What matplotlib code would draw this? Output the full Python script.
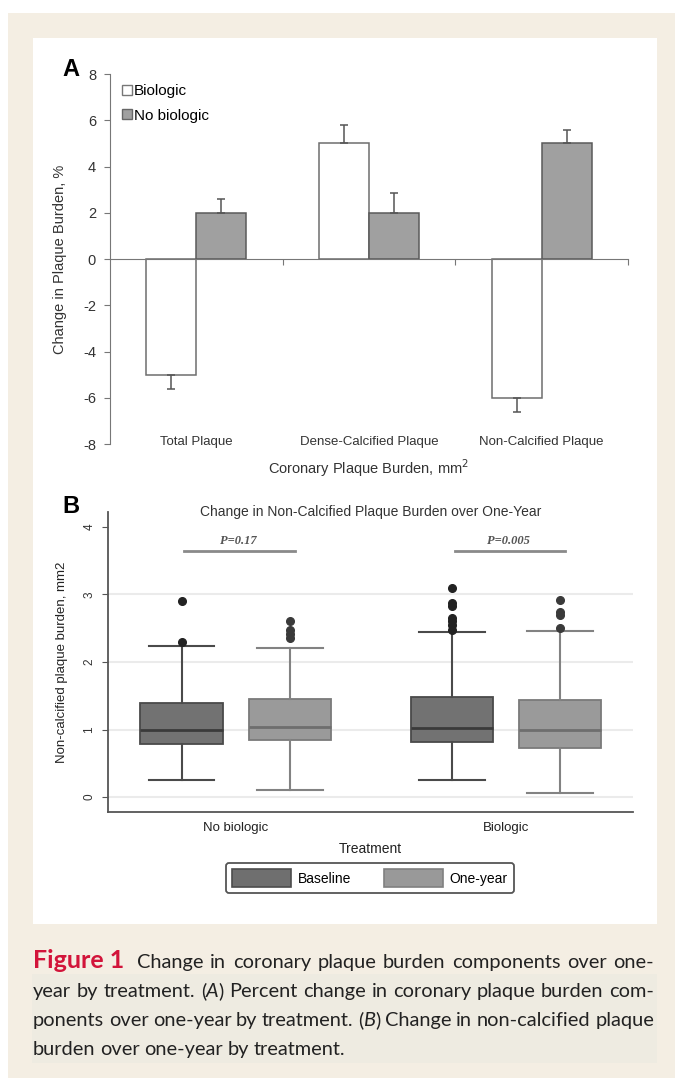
import numpy as np
import matplotlib.pyplot as plt
from matplotlib.patches import Rectangle, Patch
from matplotlib.lines import Line2D

#%% Data

# panel A : percent change in plaque burden
categories = ["Total Plaque", "Dense-Calcified Plaque", "Non-Calcified Plaque"]
biologic = [-5.0, 5.0, -6.0]
biologic_err = [0.6, 0.8, 0.6]
no_biologic = [2.0, 2.0, 5.0]
no_biologic_err = [0.6, 0.85, 0.6]

# panel B : box plots (whisker lo, q1, median, q3, whisker hi, outliers)
treatments = ["No biologic", "Biologic"]
baseline_stats = [
    [0.25, 0.79, 1.00, 1.40, 2.24, [2.30, 2.91]],
    [0.26, 0.82, 1.03, 1.48, 2.45, [2.48, 2.55, 2.61, 2.65, 2.83, 2.88, 3.09]],
]
oneyear_stats = [
    [0.10, 0.84, 1.04, 1.45, 2.20, [2.36, 2.42, 2.47, 2.60]],
    [0.06, 0.73, 1.00, 1.44, 2.46, [2.51, 2.69, 2.74, 2.92]],
]
p_values = ["P=0.17", "P=0.005"]
p_bar_y = 3.65

caption = [
    [[("Figure 1", "fig")], [("Change", "n")], [("in", "n")], [("coronary", "n")],
     [("plaque", "n")], [("burden", "n")], [("components", "n")], [("over", "n")],
     [("one-", "n")]],
    [[("year", "n")], [("by", "n")], [("treatment.", "n")],
     [("(", "n"), ("A", "i"), (")", "n")], [("Percent", "n")], [("change", "n")],
     [("in", "n")], [("coronary", "n")], [("plaque", "n")], [("burden", "n")],
     [("com-", "n")]],
    [[("ponents", "n")], [("over", "n")], [("one-year", "n")], [("by", "n")],
     [("treatment.", "n")], [("(", "n"), ("B", "i"), (")", "n")], [("Change", "n")],
     [("in", "n")], [("non-calcified", "n")], [("plaque", "n")]],
    [[("burden", "n")], [("over", "n")], [("one-year", "n")], [("by", "n")],
     [("treatment.", "n")]],
]

#%% Figure and frame

W, H = 675, 1078
cream = "#f4eee3"
plt.rcParams['font.family'] = ['Liberation Sans', 'DejaVu Sans']
plt.rcParams['axes.unicode_minus'] = False
fig = plt.figure(figsize=(W / 100, H / 100), dpi=100)
fig.patch.set_facecolor("white")


def box_px(x0, y0, x1, y1):
    # rectangle given in pixels (top-left origin) -> figure fraction
    return [x0 / W, 1 - y1 / H, (x1 - x0) / W, (y1 - y0) / H]


def rect(x0, y0, x1, y1, color):
    l, b, w, h = box_px(x0, y0, x1, y1)
    fig.patches.append(Rectangle((l, b), w, h, transform=fig.transFigure,
                                 facecolor=color, edgecolor="none", zorder=-10))


rect(8, 13, W, H, cream)
rect(33, 38, 657, 924, "white")
rect(32, 974, 657, 1063, "#eeebe1")

#%% Panel A

axA = fig.add_axes(box_px(110, 74, 628, 444))
x = np.arange(len(categories))
bw = 0.29
err_b = [[e if v < 0 else 0 for v, e in zip(biologic, biologic_err)],
         [e if v > 0 else 0 for v, e in zip(biologic, biologic_err)]]
err_n = [[e if v < 0 else 0 for v, e in zip(no_biologic, no_biologic_err)],
         [e if v > 0 else 0 for v, e in zip(no_biologic, no_biologic_err)]]
axA.bar(x - bw / 2, biologic, bw, color="white", edgecolor="#6e6e6e", lw=1.1,
        yerr=err_b, error_kw=dict(ecolor="#555555", capsize=3, elinewidth=1.1, capthick=1.1))
axA.bar(x + bw / 2, no_biologic, bw, color="#a0a0a0", edgecolor="#5a5a5a", lw=1.1,
        yerr=err_n, error_kw=dict(ecolor="#555555", capsize=3, elinewidth=1.1, capthick=1.1))
axA.set_xlim(-0.5, 2.5)
axA.set_ylim(-8, 8)
axA.set_yticks(np.arange(-8, 9, 2))
for s in ["top", "right"]:
    axA.spines[s].set_visible(False)
axA.spines["left"].set_color("#777777")
axA.spines["bottom"].set_position(("data", 0))
axA.spines["bottom"].set_color("#777777")
axA.set_xticks([0.5, 1.5, 2.5])
axA.set_xticklabels([])
axA.tick_params(axis="x", direction="out", length=4, color="#777777")
axA.tick_params(axis="y", direction="out", length=4, color="#777777",
                labelsize=10.5, labelcolor="#333333", pad=6)
for i, c in enumerate(categories):
    axA.text(i, -7.9, c, ha="center", va="center", fontsize=9.5, color="#333333")
axA.set_xlabel("Coronary Plaque Burden, mm$^2$", fontsize=10.5, color="#333333")
axA.xaxis.set_label_coords(0.5, -0.035)
axA.set_ylabel("Change in Plaque Burden, %", fontsize=10.5, color="#333333")
axA.yaxis.set_label_coords(-0.083, 0.5)
hA = [Line2D([], [], marker="s", ls="", mfc="white", mec="#777777", ms=7),
      Line2D([], [], marker="s", ls="", mfc="#a0a0a0", mec="#666666", ms=7)]
axA.legend(hA, ["Biologic", "No biologic"], loc="upper left",
           bbox_to_anchor=(-0.005, 1.01), frameon=False, fontsize=11,
           handlelength=0.7, handletextpad=0.15, labelspacing=0.7)
fig.text(62 / W, 1 - 70 / H, "A", fontsize=17, fontweight="bold", ha="left", va="center")

#%% Panel B

axB = fig.add_axes(box_px(108, 512, 633, 812))
pos = np.arange(1, len(treatments) + 1)
off, wbox = 0.2, 0.304


def to_stats(rows):
    return [dict(whislo=r[0], q1=r[1], med=r[2], q3=r[3], whishi=r[4], fliers=r[5])
            for r in rows]


axB.bxp(to_stats(baseline_stats), positions=pos - off, widths=wbox, patch_artist=True,
        boxprops=dict(facecolor="#727272", edgecolor="#4a4a4a", lw=1.3),
        medianprops=dict(color="#3a3a3a", lw=2),
        whiskerprops=dict(color="#4a4a4a", lw=1.5),
        capprops=dict(color="#4a4a4a", lw=1.5), capwidths=wbox * 0.8,
        flierprops=dict(marker="o", mfc="#222222", mec="#222222", ms=5.5))
axB.bxp(to_stats(oneyear_stats), positions=pos + off, widths=wbox, patch_artist=True,
        boxprops=dict(facecolor="#9a9a9a", edgecolor="#7a7a7a", lw=1.3),
        medianprops=dict(color="#6e6e6e", lw=2),
        whiskerprops=dict(color="#828282", lw=1.5),
        capprops=dict(color="#828282", lw=1.5), capwidths=wbox * 0.8,
        flierprops=dict(marker="o", mfc="#3a3a3a", mec="#3a3a3a", ms=5.5))
axB.set_xlim(0.528, 2.47)
axB.set_ylim(-0.22, 4.22)
axB.set_yticks(range(5))
axB.set_yticklabels([str(v) for v in range(5)], rotation=90, va="center")
axB.yaxis.grid(True, color="#ebebeb", lw=1.5)
axB.get_ygridlines()[-1].set_visible(False)
axB.set_axisbelow(True)
for s in ["top", "right"]:
    axB.spines[s].set_visible(False)
for s in ["left", "bottom"]:
    axB.spines[s].set_color("#555555")
    axB.spines[s].set_linewidth(1.3)
axB.set_xticks(pos)
axB.set_xticklabels(treatments)
axB.tick_params(axis="x", length=0, labelsize=9.5, labelcolor="#222222", pad=7)
axB.tick_params(axis="y", direction="out", length=4, color="#555555",
                labelsize=8.5, labelcolor="#333333", pad=5)
axB.set_xlabel("Treatment", fontsize=10, color="#222222", labelpad=6)
axB.set_ylabel("Non-calcified plaque burden, mm2", fontsize=9.5, color="#222222")
axB.yaxis.set_label_coords(-0.076, 0.5)
axB.text(0.5, 1.0, "Change in Non-Calcified Plaque Burden over One-Year",
         transform=axB.transAxes, ha="center", va="center", fontsize=10, color="#333333")
for p, lab in zip(pos, p_values):
    axB.plot([p - off + 0.01, p + off + 0.02], [p_bar_y, p_bar_y], color="#8a8a8a", lw=2)
    axB.text(p + 0.01, p_bar_y + 0.14, lab, ha="center", va="center", fontsize=9,
             family="Liberation Serif", style="italic", fontweight="bold", color="#555555")
hB = [Patch(facecolor="#6f6f6f", edgecolor="#4d4d4d", lw=1.2),
      Patch(facecolor="#999999", edgecolor="#808080", lw=1.2)]
legB = fig.legend(hB, ["Baseline", "One-year"], loc="center",
                  bbox_to_anchor=(370 / W, 1 - 878 / H), ncol=2, fontsize=10,
                  handlelength=4.2, handleheight=1.6, handletextpad=0.5,
                  columnspacing=2.4, borderpad=0.45, fancybox=True,
                  edgecolor="#555555")
legB.get_frame().set_linewidth(1.3)
legB.get_frame().set_alpha(1)
fig.text(62 / W, 1 - 507 / H, "B", fontsize=17, fontweight="bold", ha="left", va="center")

#%% Caption, justified

renderer = fig.canvas.get_renderer()
styles = {"n": dict(family="Lato", fontsize=14.4, color="#222222"),
          "i": dict(family="Lato", fontsize=14.4, color="#222222", style="italic"),
          "fig": dict(family="Lato", fontsize=18, color="#d2143a", fontweight="bold")}
baselines = [968, 997, 1026, 1055]
x_left, x_right = 33, 654
fig_gap = 6

for li, (line, yb) in enumerate(zip(caption, baselines)):
    words = []
    for word in line:
        runs = []
        for s, st in word:
            t = fig.text(0, 1 - yb / H, s, va="baseline", ha="left", **styles[st])
            runs.append((t, t.get_window_extent(renderer).width))
        words.append(runs)
    widths = [sum(w for _, w in runs) for runs in words]
    extra = fig_gap if li == 0 else 0
    if li < len(caption) - 1:
        gap = (x_right - x_left - sum(widths) - extra) / (len(words) - 1)
    else:
        gap = 4.5
    xc = x_left
    for wi, runs in enumerate(words):
        for t, w in runs:
            t.set_x(xc / W)
            xc += w
        if wi == 0:
            xc += extra
        xc += gap

fig.savefig("out.png", dpi=100)
